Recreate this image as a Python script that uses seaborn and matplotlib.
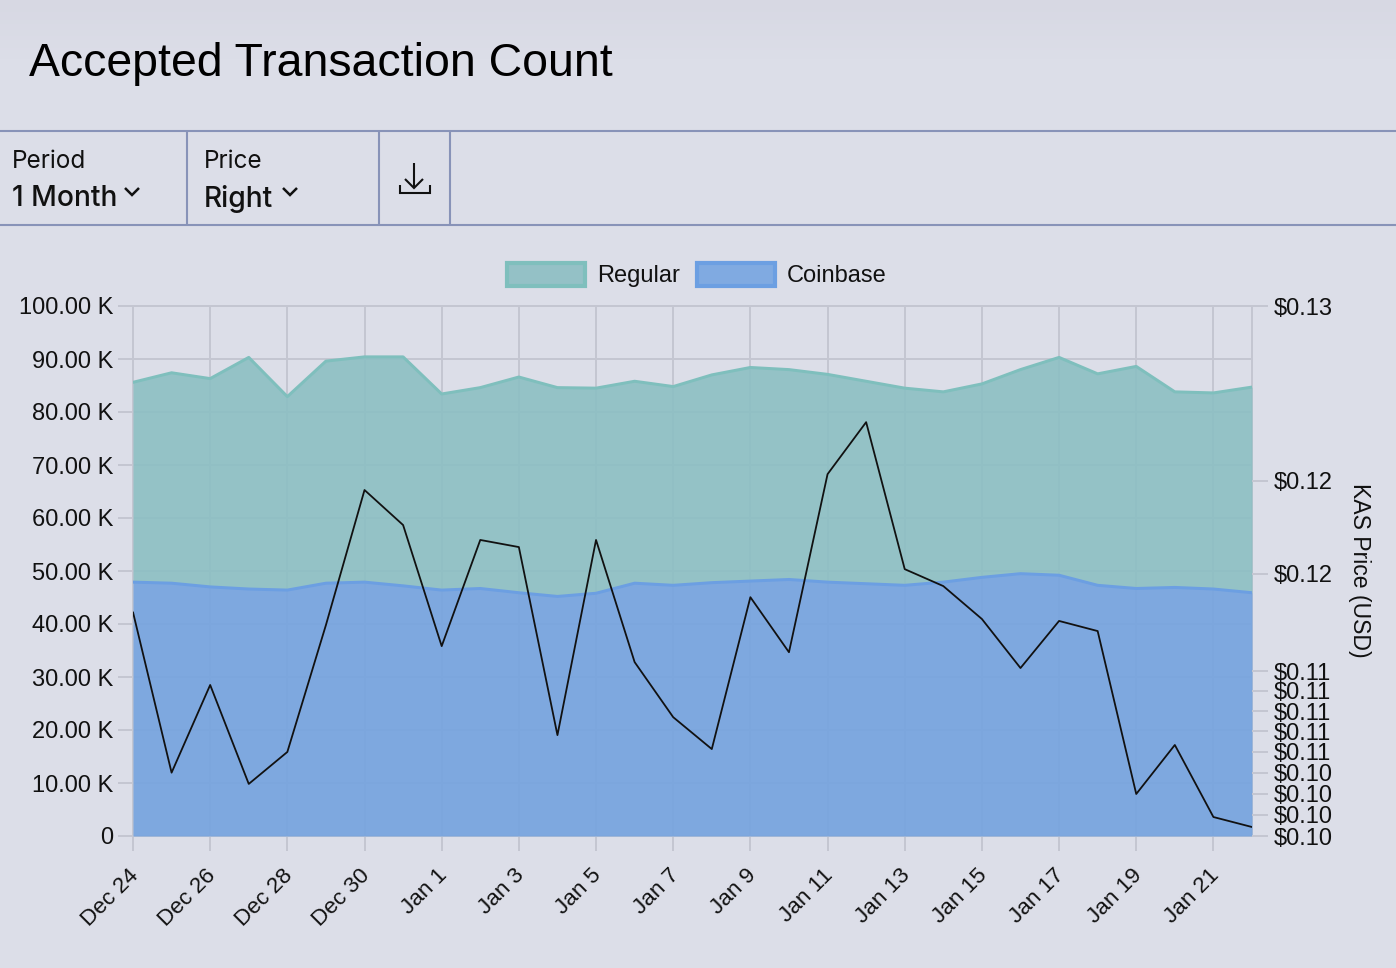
import numpy as np
import pandas as pd
import matplotlib
matplotlib.use("Agg")
import matplotlib.pyplot as plt
import seaborn as sns
from matplotlib.lines import Line2D
from matplotlib.patches import Patch
from matplotlib.ticker import FixedLocator, FuncFormatter, NullLocator
from matplotlib.transforms import ScaledTranslation

day_labels = ["Dec 24","Dec 25","Dec 26","Dec 27","Dec 28","Dec 29","Dec 30","Dec 31",
              "Jan 1","Jan 2","Jan 3","Jan 4","Jan 5","Jan 6","Jan 7","Jan 8","Jan 9","Jan 10",
              "Jan 11","Jan 12","Jan 13","Jan 14","Jan 15","Jan 16","Jan 17","Jan 18","Jan 19",
              "Jan 20","Jan 21","Jan 22"]
coinbase = [47.9,47.7,47.0,46.6,46.4,47.7,47.9,47.2,46.4,46.7,45.9,45.2,45.8,47.7,47.3,47.8,48.1,48.4,
            47.9,47.6,47.3,47.9,48.8,49.5,49.2,47.3,46.7,46.9,46.6,45.9]
regular = [37.7,39.7,39.3,43.7,36.5,41.9,42.5,43.2,37.0,37.9,40.7,39.4,38.7,38.1,37.5,39.2,40.3,39.6,
           39.2,38.2,37.2,35.9,36.5,38.5,41.1,39.9,41.9,36.9,37.0,38.8]
price = [.1130,.1050,.1093,.10446,.1060,.11234,.1195,.1176,.11126,.1168,.11642,.10682,.1168,.11045,
         .1077,.10614,.11378,.11095,.12037,.12327,.11525,.11436,.11265,.11015,.11255,.11203,.10398,
         .10634,.10289,.10242]
price_ticks = [.102,.103,.104,.105,.106,.107,.108,.109,.110,.115,.12,.13]
left_ticks = [0,10,20,30,40,50,60,70,80,90,100]
title = "Accepted Transaction Count"

BG = "#DCDEE8"; BORDER = "#8893B8"; GRID = "#C4C6D1"; TXT = "#111111"
W, H = 1396, 968
PX = 72/100

sns.set_theme(style="white")
plt.rcParams["font.family"] = ["Liberation Sans", "DejaVu Sans"]

fig = plt.figure(figsize=(W/100, H/100), dpi=100, facecolor=BG)

# faint darkening at the very top of the page
bg_rgb = np.array(matplotlib.colors.to_rgb(BG))
top_rgb = np.array(matplotlib.colors.to_rgb("#D7D8E3"))
n = 60
grad = np.zeros((n, 1, 3))
for r in range(n):
    grad[r, 0] = top_rgb + (bg_rgb-top_rgb)*r/(n-1)
fig.figimage(np.repeat(grad, W, axis=1), 0, H-n, origin="upper", zorder=0)

ax = fig.add_axes([133/W, 1-836/H, (1252-133)/W, (836-306)/H], facecolor=BG)

df = pd.DataFrame({"x": np.arange(len(day_labels)), "coinbase": coinbase, "regular": regular, "price": price})
df["total"] = df["coinbase"] + df["regular"]

ax.fill_between(df["x"], df["coinbase"], df["total"], color="#8CBFC3", alpha=.9, lw=0, zorder=3)
ax.fill_between(df["x"], 0, df["coinbase"], color="#74A3DF", alpha=.9, lw=0, zorder=3)
sns.lineplot(data=df, x="x", y="total", ax=ax, color="#7FBFBD", lw=3*PX, zorder=4, legend=False, errorbar=None)
sns.lineplot(data=df, x="x", y="coinbase", ax=ax, color="#6C9FE2", lw=3*PX, zorder=4, legend=False, errorbar=None)

ax.set_xlim(0, len(day_labels)-1)
ax.set_ylim(0, 100)
ax.set_xticks(df["x"][::2])
ax.set_xticklabels(day_labels[::2], rotation=45, ha="right", va="top", rotation_mode="anchor",
                   fontsize=16.2, color=TXT)
ax.set_yticks(left_ticks)
ax.set_yticklabels([("0" if v == 0 else f"{v:.2f} K") for v in left_ticks], fontsize=17, color=TXT)
ax.tick_params(axis="both", length=15*PX, width=2*PX, color=GRID, left=True, bottom=True)
ax.tick_params(axis="y", pad=5*PX)
ax.tick_params(axis="x", pad=9*PX)
offset = ScaledTranslation(-5/100, -5/100, fig.dpi_scale_trans)
for lab in ax.get_xticklabels():
    lab.set_transform(lab.get_transform() + offset)
ax.grid(True, color=GRID, lw=2*PX, zorder=1)
ax.set_axisbelow(True)
ax.set_xlabel(""); ax.set_ylabel("")
for s in ax.spines.values():
    s.set_color(GRID); s.set_linewidth(2*PX)

ax2 = ax.twinx()
ax2.set_zorder(ax.get_zorder()+1)
ax2.patch.set_visible(False)
sns.lineplot(data=df, x="x", y="price", ax=ax2, color="#111111", lw=1.8*PX, legend=False, errorbar=None)
ax2.set_yscale("log")
ax2.set_ylim(.102, .13)
ax2.yaxis.set_major_locator(FixedLocator(price_ticks))
ax2.yaxis.set_minor_locator(NullLocator())
ax2.yaxis.set_major_formatter(FuncFormatter(lambda v, _: "$%.2f" % v))
ax2.tick_params(axis="y", length=16*PX, width=2*PX, color=GRID, labelsize=17, labelcolor=TXT, pad=6*PX, right=True)
ax2.set_ylabel("")
for s in ax2.spines.values():
    s.set_visible(False)
fig.text(1360/W, 1-570/H, "KAS Price (USD)", rotation=270, ha="center", va="center", fontsize=16.6, color=TXT)

handles = [Patch(facecolor="#94C1C6", edgecolor="#7FBFBD", lw=3),
           Patch(facecolor="#80AAE1", edgecolor="#6C9FE2", lw=3)]
fig.legend(handles, ["Regular", "Coinbase"], loc="center", bbox_to_anchor=(697/W, 1-275/H), ncol=2,
           frameon=False, fontsize=17, handlelength=3.3, handleheight=1.15, handletextpad=.5,
           columnspacing=.75, labelcolor=TXT)

# page chrome
def fline(xs, ys, color=BORDER, lw=1.5):
    fig.add_artist(Line2D([x/W for x in xs], [1-y/H for y in ys], color=color, lw=lw,
                          solid_capstyle="butt", solid_joinstyle="miter"))
fline([0, W], [131, 131]); fline([0, W], [225, 225])
for x in (187, 379, 450):
    fline([x, x], [131, 225])
fig.text(29/W, 1-64.5/H, title, fontsize=33.4, color="black", va="center", ha="left")
fig.text(12/W, 1-162/H, "Period", fontsize=17.5, family="Inter", color=TXT, va="center")
fig.text(12/W, 1-199/H, "1 Month", fontsize=20.3, family="Inter", weight="medium", color=TXT, va="center")
fig.text(204/W, 1-162/H, "Price", fontsize=17.5, family="Inter", color=TXT, va="center")
fig.text(204/W, 1-199/H, "Right", fontsize=20.3, family="Inter", weight="medium", color=TXT, va="center")
fline([125, 132, 139], [188, 195, 188], TXT, 1.8)
fline([283, 290, 297], [188, 195, 188], TXT, 1.8)
# download icon
fline([414, 414], [163, 187], TXT, 1.5)
fline([405, 414, 423], [179, 188, 179], TXT, 1.5)
fline([399.5, 399.5, 429.5, 429.5], [185, 193, 193, 185], TXT, 1.5)

fig.savefig("out.png", dpi=100, facecolor=BG)
